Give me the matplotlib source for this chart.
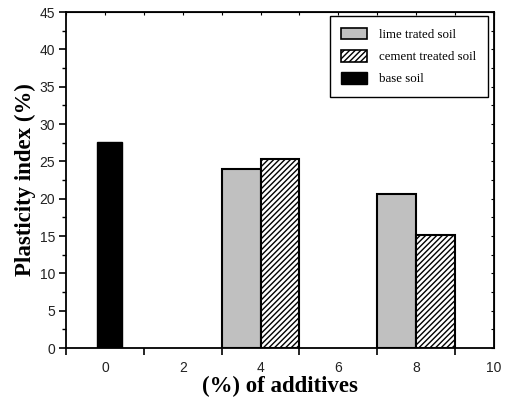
import numpy as np
import matplotlib.pyplot as plt
from matplotlib.patches import Patch

# plasticity index (%) vs additive content (%)
additives = [4, 8]
lime_pi = [24.0, 20.6]
cement_pi = [25.3, 15.2]
base_pi = 27.6

plt.rcParams['hatch.linewidth'] = 1.0

fig = plt.figure(figsize=(5.05, 4.01), dpi=100)
ax = fig.add_axes([66/505, 53/401, 428/505, 336/401])

ax.bar(additives, lime_pi, width=-1, align='edge', color='#c0c0c0',
       edgecolor='black', linewidth=1.5, label='lime trated soil')
ax.bar(additives, cement_pi, width=1, align='edge', color='white',
       edgecolor='black', linewidth=1.5, hatch='//////', label='cement treated soil')
ax.bar(0.12, base_pi, width=0.64, color='black', edgecolor='black',
       linewidth=1, label='base soil')

ax.set_xlim(-1, 10)
ax.set_ylim(0, 45)

# labels on even values, tick marks on odd ones
ax.set_xticks(np.arange(0, 11, 2))
ax.set_xticks(np.arange(-1, 10, 2), minor=True)
ax.tick_params(axis='x', which='major', length=0, pad=9)
ax.tick_params(axis='x', which='minor', length=5, width=1.2, direction='out')
ax.set_yticks(np.arange(0, 46, 5))
ax.set_yticks(np.arange(0, 46, 2.5), minor=True)
ax.tick_params(axis='y', which='major', length=5, width=1.2, direction='out', pad=3)
ax.tick_params(axis='y', which='minor', length=3, width=1, direction='out')
for lab in ax.get_xticklabels() + ax.get_yticklabels():
    lab.set_fontfamily('Liberation Sans')
    lab.set_fontsize(10)
    lab.set_color('#222222')

top = ax.secondary_xaxis('top')
top.set_xticks(np.arange(-1, 11, 1))
top.tick_params(direction='in', length=2, width=0.8, labeltop=False)
right = ax.secondary_yaxis('right')
right.set_yticks(np.arange(0, 46, 2.5))
right.tick_params(direction='in', length=2, width=0.8, labelright=False)

for sp in ax.spines.values():
    sp.set_linewidth(1.3)

ax.set_xlabel('(%) of additives', family='Liberation Serif', fontweight='bold',
              fontsize=16.5, labelpad=1)
ax.set_ylabel('Plasticity index (%)', family='Liberation Serif', fontweight='bold',
              fontsize=16.5, labelpad=2)

handles = [Patch(facecolor='#c0c0c0', edgecolor='black', linewidth=1.2),
           Patch(facecolor='white', edgecolor='black', linewidth=1.2, hatch='//////'),
           Patch(facecolor='black', edgecolor='black')]
names = ['lime trated soil', 'cement treated soil', 'base soil']
leg = ax.legend(handles, names, loc='upper right', bbox_to_anchor=(1.0, 1.007),
                prop={'family': 'Liberation Serif', 'size': 9.3}, fancybox=False,
                edgecolor='black', framealpha=1, handlelength=2.0, handleheight=1.0,
                borderpad=0.9, labelspacing=0.7, handletextpad=0.9)
leg.get_frame().set_linewidth(1.0)

fig.savefig('out.png', dpi=100)
